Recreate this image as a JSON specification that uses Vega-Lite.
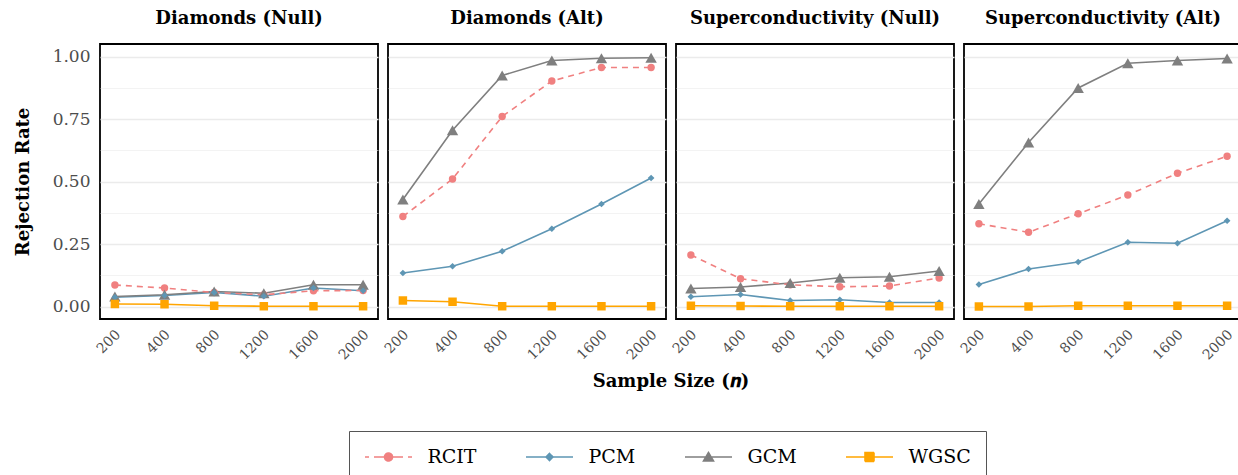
{
  "$schema": "https://vega.github.io/schema/vega-lite/v6.json",
  "padding": {"left": 14, "top": 10, "right": 0, "bottom": 0},
  "background": "white",
  "datasets": {
    "rates": [
      {"panel": "Diamonds (Null)", "method": "RCIT", "n": 200, "rate": 0.086},
      {"panel": "Diamonds (Null)", "method": "RCIT", "n": 400, "rate": 0.074},
      {"panel": "Diamonds (Null)", "method": "RCIT", "n": 800, "rate": 0.056},
      {"panel": "Diamonds (Null)", "method": "RCIT", "n": 1200, "rate": 0.047},
      {"panel": "Diamonds (Null)", "method": "RCIT", "n": 1600, "rate": 0.063},
      {"panel": "Diamonds (Null)", "method": "RCIT", "n": 2000, "rate": 0.064},
      {"panel": "Diamonds (Null)", "method": "PCM", "n": 200, "rate": 0.037},
      {"panel": "Diamonds (Null)", "method": "PCM", "n": 400, "rate": 0.044},
      {"panel": "Diamonds (Null)", "method": "PCM", "n": 800, "rate": 0.056},
      {"panel": "Diamonds (Null)", "method": "PCM", "n": 1200, "rate": 0.041},
      {"panel": "Diamonds (Null)", "method": "PCM", "n": 1600, "rate": 0.074},
      {"panel": "Diamonds (Null)", "method": "PCM", "n": 2000, "rate": 0.063},
      {"panel": "Diamonds (Null)", "method": "GCM", "n": 200, "rate": 0.040},
      {"panel": "Diamonds (Null)", "method": "GCM", "n": 400, "rate": 0.047},
      {"panel": "Diamonds (Null)", "method": "GCM", "n": 800, "rate": 0.060},
      {"panel": "Diamonds (Null)", "method": "GCM", "n": 1200, "rate": 0.053},
      {"panel": "Diamonds (Null)", "method": "GCM", "n": 1600, "rate": 0.087},
      {"panel": "Diamonds (Null)", "method": "GCM", "n": 2000, "rate": 0.087},
      {"panel": "Diamonds (Null)", "method": "WGSC", "n": 200, "rate": 0.010},
      {"panel": "Diamonds (Null)", "method": "WGSC", "n": 400, "rate": 0.009},
      {"panel": "Diamonds (Null)", "method": "WGSC", "n": 800, "rate": 0.003},
      {"panel": "Diamonds (Null)", "method": "WGSC", "n": 1200, "rate": 0.001},
      {"panel": "Diamonds (Null)", "method": "WGSC", "n": 1600, "rate": 0.001},
      {"panel": "Diamonds (Null)", "method": "WGSC", "n": 2000, "rate": 0.001},

      {"panel": "Diamonds (Alt)", "method": "RCIT", "n": 200, "rate": 0.360},
      {"panel": "Diamonds (Alt)", "method": "RCIT", "n": 400, "rate": 0.510},
      {"panel": "Diamonds (Alt)", "method": "RCIT", "n": 800, "rate": 0.760},
      {"panel": "Diamonds (Alt)", "method": "RCIT", "n": 1200, "rate": 0.902},
      {"panel": "Diamonds (Alt)", "method": "RCIT", "n": 1600, "rate": 0.956},
      {"panel": "Diamonds (Alt)", "method": "RCIT", "n": 2000, "rate": 0.956},
      {"panel": "Diamonds (Alt)", "method": "PCM", "n": 200, "rate": 0.134},
      {"panel": "Diamonds (Alt)", "method": "PCM", "n": 400, "rate": 0.161},
      {"panel": "Diamonds (Alt)", "method": "PCM", "n": 800, "rate": 0.221},
      {"panel": "Diamonds (Alt)", "method": "PCM", "n": 1200, "rate": 0.311},
      {"panel": "Diamonds (Alt)", "method": "PCM", "n": 1600, "rate": 0.410},
      {"panel": "Diamonds (Alt)", "method": "PCM", "n": 2000, "rate": 0.514},
      {"panel": "Diamonds (Alt)", "method": "GCM", "n": 200, "rate": 0.428},
      {"panel": "Diamonds (Alt)", "method": "GCM", "n": 400, "rate": 0.705},
      {"panel": "Diamonds (Alt)", "method": "GCM", "n": 800, "rate": 0.924},
      {"panel": "Diamonds (Alt)", "method": "GCM", "n": 1200, "rate": 0.984},
      {"panel": "Diamonds (Alt)", "method": "GCM", "n": 1600, "rate": 0.993},
      {"panel": "Diamonds (Alt)", "method": "GCM", "n": 2000, "rate": 0.995},
      {"panel": "Diamonds (Alt)", "method": "WGSC", "n": 200, "rate": 0.024},
      {"panel": "Diamonds (Alt)", "method": "WGSC", "n": 400, "rate": 0.019},
      {"panel": "Diamonds (Alt)", "method": "WGSC", "n": 800, "rate": 0.001},
      {"panel": "Diamonds (Alt)", "method": "WGSC", "n": 1200, "rate": 0.001},
      {"panel": "Diamonds (Alt)", "method": "WGSC", "n": 1600, "rate": 0.001},
      {"panel": "Diamonds (Alt)", "method": "WGSC", "n": 2000, "rate": 0.001},

      {"panel": "Superconductivity (Null)", "method": "RCIT", "n": 200, "rate": 0.206},
      {"panel": "Superconductivity (Null)", "method": "RCIT", "n": 400, "rate": 0.111},
      {"panel": "Superconductivity (Null)", "method": "RCIT", "n": 800, "rate": 0.087},
      {"panel": "Superconductivity (Null)", "method": "RCIT", "n": 1200, "rate": 0.079},
      {"panel": "Superconductivity (Null)", "method": "RCIT", "n": 1600, "rate": 0.082},
      {"panel": "Superconductivity (Null)", "method": "RCIT", "n": 2000, "rate": 0.114},
      {"panel": "Superconductivity (Null)", "method": "PCM", "n": 200, "rate": 0.039},
      {"panel": "Superconductivity (Null)", "method": "PCM", "n": 400, "rate": 0.048},
      {"panel": "Superconductivity (Null)", "method": "PCM", "n": 800, "rate": 0.024},
      {"panel": "Superconductivity (Null)", "method": "PCM", "n": 1200, "rate": 0.027},
      {"panel": "Superconductivity (Null)", "method": "PCM", "n": 1600, "rate": 0.016},
      {"panel": "Superconductivity (Null)", "method": "PCM", "n": 2000, "rate": 0.016},
      {"panel": "Superconductivity (Null)", "method": "GCM", "n": 200, "rate": 0.072},
      {"panel": "Superconductivity (Null)", "method": "GCM", "n": 400, "rate": 0.078},
      {"panel": "Superconductivity (Null)", "method": "GCM", "n": 800, "rate": 0.094},
      {"panel": "Superconductivity (Null)", "method": "GCM", "n": 1200, "rate": 0.115},
      {"panel": "Superconductivity (Null)", "method": "GCM", "n": 1600, "rate": 0.119},
      {"panel": "Superconductivity (Null)", "method": "GCM", "n": 2000, "rate": 0.142},
      {"panel": "Superconductivity (Null)", "method": "WGSC", "n": 200, "rate": 0.003},
      {"panel": "Superconductivity (Null)", "method": "WGSC", "n": 400, "rate": 0.002},
      {"panel": "Superconductivity (Null)", "method": "WGSC", "n": 800, "rate": 0.001},
      {"panel": "Superconductivity (Null)", "method": "WGSC", "n": 1200, "rate": 0.001},
      {"panel": "Superconductivity (Null)", "method": "WGSC", "n": 1600, "rate": 0.001},
      {"panel": "Superconductivity (Null)", "method": "WGSC", "n": 2000, "rate": 0.001},

      {"panel": "Superconductivity (Alt)", "method": "RCIT", "n": 200, "rate": 0.331},
      {"panel": "Superconductivity (Alt)", "method": "RCIT", "n": 400, "rate": 0.297},
      {"panel": "Superconductivity (Alt)", "method": "RCIT", "n": 800, "rate": 0.371},
      {"panel": "Superconductivity (Alt)", "method": "RCIT", "n": 1200, "rate": 0.446},
      {"panel": "Superconductivity (Alt)", "method": "RCIT", "n": 1600, "rate": 0.533},
      {"panel": "Superconductivity (Alt)", "method": "RCIT", "n": 2000, "rate": 0.601},
      {"panel": "Superconductivity (Alt)", "method": "PCM", "n": 200, "rate": 0.088},
      {"panel": "Superconductivity (Alt)", "method": "PCM", "n": 400, "rate": 0.150},
      {"panel": "Superconductivity (Alt)", "method": "PCM", "n": 800, "rate": 0.178},
      {"panel": "Superconductivity (Alt)", "method": "PCM", "n": 1200, "rate": 0.257},
      {"panel": "Superconductivity (Alt)", "method": "PCM", "n": 1600, "rate": 0.253},
      {"panel": "Superconductivity (Alt)", "method": "PCM", "n": 2000, "rate": 0.343},
      {"panel": "Superconductivity (Alt)", "method": "GCM", "n": 200, "rate": 0.410},
      {"panel": "Superconductivity (Alt)", "method": "GCM", "n": 400, "rate": 0.656},
      {"panel": "Superconductivity (Alt)", "method": "GCM", "n": 800, "rate": 0.874},
      {"panel": "Superconductivity (Alt)", "method": "GCM", "n": 1200, "rate": 0.973},
      {"panel": "Superconductivity (Alt)", "method": "GCM", "n": 1600, "rate": 0.984},
      {"panel": "Superconductivity (Alt)", "method": "GCM", "n": 2000, "rate": 0.992},
      {"panel": "Superconductivity (Alt)", "method": "WGSC", "n": 200, "rate": 0.000},
      {"panel": "Superconductivity (Alt)", "method": "WGSC", "n": 400, "rate": 0.000},
      {"panel": "Superconductivity (Alt)", "method": "WGSC", "n": 800, "rate": 0.003},
      {"panel": "Superconductivity (Alt)", "method": "WGSC", "n": 1200, "rate": 0.003},
      {"panel": "Superconductivity (Alt)", "method": "WGSC", "n": 1600, "rate": 0.003},
      {"panel": "Superconductivity (Alt)", "method": "WGSC", "n": 2000, "rate": 0.003}
    ]
  },
  "data": {"name": "rates"},
  "facet": {
    "column": {
      "field": "panel",
      "type": "nominal",
      "sort": ["Diamonds (Null)", "Diamonds (Alt)", "Superconductivity (Null)", "Superconductivity (Alt)"],
      "title": "Sample Size (𝒏)",
      "header": {
        "labelOrient": "top",
        "labelFont": "DejaVu Serif", "labelFontWeight": "bold", "labelFontSize": 18, "labelColor": "black", "labelPadding": 15,
        "titleOrient": "bottom",
        "titleFont": "DejaVu Serif", "titleFontWeight": "bold", "titleFontSize": 18, "titleColor": "black", "titlePadding": 0
      }
    }
  },
  "spacing": 8,
  "spec": {
    "width": 278,
    "height": 275,
    "encoding": {
      "x": {
        "field": "n", "type": "ordinal",
        "scale": {"type": "point", "padding": 0.3},
        "axis": {
          "title": null,
          "labelAngle": -45, "labelAlign": "right", "labelBaseline": "middle",
          "labelFontSize": 14, "labelPadding": 12, "labelOffset": 3,
          "gridWidth": 1.3
        }
      },
      "y": {
        "field": "rate", "type": "quantitative",
        "scale": {"domain": [-0.05, 1.05], "nice": false, "zero": false},
        "axis": {
          "title": "Rejection Rate",
          "values": [0, 0.125, 0.25, 0.375, 0.5, 0.625, 0.75, 0.875, 1],
          "labelExpr": "(datum.value * 8) % 2 === 0 ? format(datum.value, '.2f') : ''",
          "gridWidth": {"condition": {"test": "(datum.value * 8) % 2 === 0", "value": 1.3}, "value": 0.6},
          "labelFontSize": 17, "labelPadding": 9, "titlePadding": 20
        }
      },
      "color": {
        "field": "method", "type": "nominal",
        "scale": {"domain": ["RCIT", "PCM", "GCM", "WGSC"], "range": ["#F08080", "#5E96B4", "#7F7F7F", "#FFA500"]},
        "legend": {
          "title": null,
          "orient": "none",
          "legendX": 249,
          "legendY": 387,
          "direction": "horizontal",
          "symbolSize": 400,
          "symbolOffset": 13.5,
          "labelOffset": 28,
          "columnPadding": 45,
          "padding": 15,
          "strokeColor": "#555555",
          "labelFont": "DejaVu Serif",
          "labelFontSize": 19,
          "labelColor": "black",
          "encode": {
            "symbols": {
              "update": {
                "shape": {"signal": "datum.value === 'RCIT' ? 'M-2.35,0L-1.95,0M-1.45,0L-0.45,0M0.45,0L1.45,0M1.95,0L2.35,0M0.4,0C0.4,0.221 0.221,0.4 0,0.4C-0.221,0.4 -0.4,0.221 -0.4,0C-0.4,-0.221 -0.221,-0.4 0,-0.4C0.221,-0.4 0.4,-0.221 0.4,0Z' : datum.value === 'PCM' ? 'M-2.35,0L2.35,0M-0.35,0L0,-0.35L0.35,0L0,0.35Z' : datum.value === 'GCM' ? 'M-2.35,0L2.35,0M-0.5,0.4L0,-0.45L0.5,0.4Z' : 'M-2.35,0L2.35,0M-0.45,-0.45L0.45,-0.45L0.45,0.45L-0.45,0.45Z'"},
                "fill": {"signal": "datum.value === 'RCIT' ? '#F08080' : datum.value === 'PCM' ? '#5E96B4' : datum.value === 'GCM' ? '#7F7F7F' : '#FFA500'"},
                "stroke": {"signal": "datum.value === 'RCIT' ? '#F08080' : datum.value === 'PCM' ? '#5E96B4' : datum.value === 'GCM' ? '#7F7F7F' : '#FFA500'"},
                "strokeWidth": {"value": 1.6},
                "strokeDash": {"value": [1, 0]},
                "size": {"value": 400},
                "opacity": {"value": 1},
                "fillOpacity": {"value": 1},
                "strokeOpacity": {"value": 1}
              }
            }
          }
        }
      }
    },
    "layer": [
      {
        "transform": [{"filter": "datum.method !== 'RCIT'"}],
        "mark": {"type": "line", "strokeWidth": 1.6}
      },
      {
        "transform": [{"filter": "datum.method === 'RCIT'"}],
        "mark": {"type": "line", "strokeWidth": 1.6, "strokeDash": [6, 5]}
      },
      {
        "transform": [{"filter": "datum.method === 'RCIT'"}],
        "mark": {"type": "point", "filled": true, "opacity": 1, "shape": "circle", "size": 55}
      },
      {
        "transform": [{"filter": "datum.method === 'GCM'"}],
        "mark": {"type": "point", "filled": true, "opacity": 1, "shape": "triangle-up", "size": 130}
      },
      {
        "transform": [{"filter": "datum.method === 'PCM'"}],
        "mark": {"type": "point", "filled": true, "opacity": 1, "shape": "diamond", "size": 45}
      },
      {
        "transform": [{"filter": "datum.method === 'WGSC'"}],
        "mark": {"type": "point", "filled": true, "opacity": 1, "shape": "square", "size": 72}
      }
    ]
  },
  "config": {
    "font": "DejaVu Serif",
    "view": {"stroke": "black", "strokeWidth": 1.8},
    "axis": {
      "gridColor": "#EBEBEB",
      "domain": false,
      "ticks": false,
      "tickSize": 0,
      "labelColor": "#4D4D4D",
      "labelFont": "DejaVu Serif",
      "titleFont": "DejaVu Serif",
      "titleFontWeight": "bold",
      "titleColor": "black",
      "titleFontSize": 18
    }
  }
}
